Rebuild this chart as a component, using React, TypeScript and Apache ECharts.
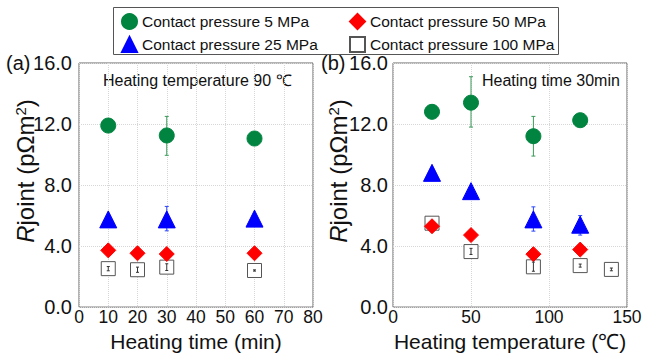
import React, { useEffect, useRef } from "react";
import * as echarts from "echarts";

// ---- data ----
const legendNames = [
  "Contact pressure 5 MPa",
  "Contact pressure 25 MPa",
  "Contact pressure 50 MPa",
  "Contact pressure 100 MPa",
];

// (a) heating time (min)
const timeP5 = [[10, 11.9], [30, 11.25], [60, 11.05]];
const timeP25 = [[10, 5.75], [30, 5.75], [60, 5.8]];
const timeP50 = [[10, 3.72], [20, 3.53], [30, 3.48], [60, 3.53]];
const timeP100 = [[10, 2.52], [20, 2.45], [30, 2.62], [60, 2.4]];
const timeErrP5 = [[30, 9.95, 12.5]];
const timeErrP25 = [[10, 5.35, 5.95], [30, 5.0, 6.6]];
const timeErrP100 = [[10, 2.38, 2.66], [20, 2.28, 2.62], [30, 2.4, 2.84], [60, 2.36, 2.44]];

// (b) heating temperature (°C)
const tempP5 = [[25, 12.8], [50, 13.4], [90, 11.2], [120, 12.25]];
const tempP25 = [[25, 8.8], [50, 7.6], [90, 5.75], [120, 5.4]];
const tempP50 = [[25, 5.3], [50, 4.72], [90, 3.47], [120, 3.77]];
const tempP100 = [[25, 5.5], [50, 3.64], [90, 2.64], [120, 2.72], [140, 2.47]];
const tempErrP5 = [[50, 11.8, 15.1], [90, 9.9, 12.5]];
const tempErrP25 = [[90, 4.98, 6.57], [120, 4.72, 6.0]];
const tempErrP50 = [[25, 5.0, 5.6]];
const tempErrP100 = [[50, 3.45, 3.85], [90, 2.35, 2.95], [120, 2.62, 2.82], [140, 2.38, 2.56]];

const yTicks = [0, 4, 8, 12, 16];
const xTimeTicks = [0, 10, 20, 30, 40, 50, 60, 70, 80];
const xTempTicks = [0, 50, 100, 150];

const FONT = "Liberation Sans, Arial, sans-serif";

export default function App() {
  const ref = useRef<HTMLDivElement>(null);
  useEffect(() => {
    if (!ref.current) return;
    const chart = echarts.init(ref.current, null, { renderer: "svg" });

    const styles = [
      { symbol: "circle", size: 15, color: "#00843f", border: "#00843f", err: "#3a9a5a", z: 3.2 },
      { symbol: "triangle", size: 17, color: "#0000ff", border: "#0000ff", err: "#2a45ff", z: 3.1 },
      { symbol: "diamond", size: 15, color: "#ff0000", border: "#ff0000", err: "#333333", z: 3.3 },
      { symbol: "rect", size: 14, color: "#ffffff", border: "#555555", err: "#333333", z: 3.0 },
    ];

    const scatter = (idx: number, data: number[][], gi: number) => ({
      type: "scatter",
      name: legendNames[idx],
      xAxisIndex: gi,
      yAxisIndex: gi,
      data,
      symbol: styles[idx].symbol,
      symbolSize: styles[idx].size,
      itemStyle: {
        color: styles[idx].color,
        borderColor: styles[idx].border,
        borderWidth: 1,
        opacity: 1,
      },
      z: styles[idx].z,
    });

    const errBar = (idx: number, data: number[][], gi: number, z: number) => ({
      type: "custom",
      name: "err" + idx + "-" + gi,
      xAxisIndex: gi,
      yAxisIndex: gi,
      data,
      z,
      silent: true,
      encode: { x: 0, y: [1, 2] },
      renderItem: (params: any, api: any) => {
        const x = api.value(0);
        const lo = api.coord([x, api.value(1)]);
        const hi = api.coord([x, api.value(2)]);
        const cap = idx === 3 ? 1.5 : 2;
        const st = { stroke: styles[idx].err, lineWidth: 1 };
        return {
          type: "group",
          children: [
            { type: "line", shape: { x1: lo[0], y1: lo[1], x2: hi[0], y2: hi[1] }, style: st },
            { type: "line", shape: { x1: lo[0] - cap, y1: lo[1], x2: lo[0] + cap, y2: lo[1] }, style: st },
            { type: "line", shape: { x1: hi[0] - cap, y1: hi[1], x2: hi[0] + cap, y2: hi[1] }, style: st },
          ],
        };
      },
    });

    const yAxis = (gi: number, margin: number) => ({
      type: "value",
      gridIndex: gi,
      min: yTicks[0],
      max: yTicks[yTicks.length - 1],
      interval: yTicks[1] - yTicks[0],
      axisLine: { show: false },
      axisTick: { show: false },
      axisLabel: {
        fontFamily: FONT,
        fontSize: 20,
        color: "#111",
        margin,
        formatter: (v: number) => v.toFixed(1),
      },
      splitLine: { show: true, lineStyle: { color: "#d6d6d6", type: "dotted", width: 1 } },
    });

    const xAxis = (gi: number, ticks: number[], name: string, interval: number) => ({
      type: "value",
      gridIndex: gi,
      min: ticks[0],
      max: ticks[ticks.length - 1],
      interval,
      name,
      nameLocation: "middle",
      nameGap: 19,
      nameTextStyle: { fontFamily: FONT, fontSize: 21, color: "#111" },
      axisLine: { show: false },
      axisTick: { show: false },
      axisLabel: { fontFamily: FONT, fontSize: 17.5, color: "#111", margin: 1 },
      splitLine: { show: true, lineStyle: { color: "#d6d6d6", type: "dotted", width: 1 } },
    });

    const legendCommon = {
      orient: "vertical",
      top: 8,
      itemWidth: 15,
      itemHeight: 15,
      itemGap: 6,
      selectedMode: false,
      textStyle: { fontFamily: FONT, fontSize: 15.5, color: "#111" },
    };

    const yName = (x: number) => ({
      type: "text",
      x,
      y: 171,
      rotation: Math.PI / 2,
      style: {
        text: "{i|R}joint (pΩm{s|2})",
        fill: "#111",
        align: "center",
        verticalAlign: "middle",
        font: `24px ${FONT}`,
        rich: {
          i: { fontFamily: FONT, fontSize: 24, fontStyle: "italic", fill: "#111" },
          s: { fontFamily: FONT, fontSize: 15, fill: "#111", verticalAlign: "top", padding: [0, 0, 10, 0] },
        },
      },
    });

    chart.setOption({
      animation: false,
      backgroundColor: "#ffffff",
      grid: [
        { left: 79, top: 63, width: 234, height: 249, show: true, borderColor: "#666", borderWidth: 1, backgroundColor: "transparent" },
        { left: 393, top: 63, width: 234, height: 249, show: true, borderColor: "#666", borderWidth: 1, backgroundColor: "transparent" },
      ],
      xAxis: [
        xAxis(0, xTimeTicks, "Heating time (min)", xTimeTicks[1] - xTimeTicks[0]),
        xAxis(1, xTempTicks, "Heating temperature (℃)", xTempTicks[1] - xTempTicks[0]),
      ],
      yAxis: [yAxis(0, 7), yAxis(1, 5)],
      legend: [
        { ...legendCommon, left: 116, data: [legendNames[0], legendNames[1]] },
        { ...legendCommon, left: 344, data: [legendNames[2], legendNames[3]] },
      ],
      graphic: [
        { type: "rect", left: 111, top: 5, shape: { width: 445, height: 47 }, style: { fill: "none", stroke: "#555", lineWidth: 1 }, z: 10 },
        { type: "text", left: 6, top: 53, style: { text: "(a)", font: `20px ${FONT}`, fill: "#111" } },
        { type: "text", left: 321, top: 53, style: { text: "(b)", font: `20px ${FONT}`, fill: "#111" } },
        { type: "text", left: 103, top: 72, style: { text: "Heating temperature 90 ℃", font: `16px ${FONT}`, fill: "#111" } },
        { type: "text", left: 482, top: 72, style: { text: "Heating time 30min", font: `16px ${FONT}`, fill: "#111" } },
        yName(25),
        yName(338),
      ],
      series: [
        errBar(0, timeErrP5, 0, 2),
        errBar(1, timeErrP25, 0, 2),
        errBar(0, tempErrP5, 1, 2),
        errBar(1, tempErrP25, 1, 2),
        errBar(2, tempErrP50, 1, 2),
        scatter(0, timeP5, 0),
        scatter(1, timeP25, 0),
        scatter(2, timeP50, 0),
        scatter(3, timeP100, 0),
        scatter(0, tempP5, 1),
        scatter(1, tempP25, 1),
        scatter(2, tempP50, 1),
        scatter(3, tempP100, 1),
        errBar(3, timeErrP100, 0, 5),
        errBar(3, tempErrP100, 1, 5),
      ],
    });
    return () => chart.dispose();
  }, []);

  return <div ref={ref} style={{ width: 649, height: 357, position: "absolute", left: 0, top: 0 }} />;
}
